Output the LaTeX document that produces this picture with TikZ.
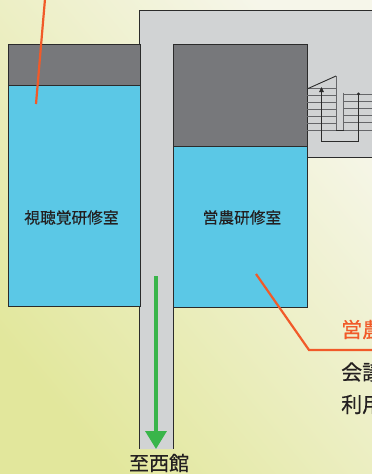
\documentclass[tikz,border=0pt]{standalone}
\usepackage{fontspec}
\setmainfont{Noto Sans CJK JP}
\newfontfamily\medfont[FakeBold=0.35]{Noto Sans CJK JP}
\usetikzlibrary{arrows.meta}
\definecolor{roomblue}{HTML}{5BC8E6}
\definecolor{roomgray}{HTML}{77787B}
\definecolor{hall}{HTML}{D1D3D4}
\definecolor{lineblk}{HTML}{2B2B2B}
\definecolor{orangeline}{HTML}{F15A29}
\definecolor{greenarrow}{HTML}{39B54A}
\definecolor{inkk}{HTML}{231F20}
\definecolor{bglow}{HTML}{E2E79C}
\definecolor{bghigh}{HTML}{F6F6EA}
\tikzset{
  wall/.style={draw=lineblk,line width=1pt},
  tread/.style={draw=roomgray!85!black,line width=1pt},
  run/.style={draw=lineblk,line width=.9pt},
  leader/.style={draw=orangeline,line width=2.2pt},
  roomlabel/.style={font=\medfont\fontsize{15.7}{16}\selectfont,text=inkk,inner sep=0pt},
  notelabel/.style={font=\medfont\fontsize{21}{21}\selectfont,anchor=west,inner sep=0pt}
}
\begin{document}
\begin{tikzpicture}[x=1pt,y=-1pt]
\useasboundingbox (0,0) rectangle (372,474);
\clip (0,0) rectangle (372,474);
\shade[shading=axis,left color=bghigh,right color=bglow,shading angle=-50] (0,0) rectangle (372,474);
% corridor
\path[fill=hall] (139.5,10.5) -- (372,10.5) -- (372,157) -- (307,157) -- (307,44) -- (173,44) -- (173,449) -- (139.5,449) -- cycle;
\draw[wall] (372,10.5) -- (139.5,10.5) -- (139.5,44);
\draw[wall] (139.5,306) -- (139.5,449);
\draw[wall] (173,307) -- (173,449);
\draw[wall] (307,157) -- (372,157);
% left room
\fill[roomgray] (8.5,44.5) rectangle (140,85.5);
\fill[roomblue] (8.5,85.5) rectangle (140,306);
\draw[wall] (8.5,44.5) rectangle (140,306);
\draw[wall] (8.5,85.5) -- (140,85.5);
% right room
\fill[roomgray] (173.5,44.5) rectangle (307,146.5);
\fill[roomblue] (173.5,146.5) rectangle (307,307);
\draw[wall] (173.5,44.5) rectangle (307,307);
\draw[wall] (173.5,146.5) -- (307,146.5);
% stairs
\foreach \y in {88,95,102.5,109.5,116.5,123,130} \draw[tread] (307,\y) -- (336,\y);
\foreach \y in {94.5,101.5,108,115,122,130} \draw[tread] (343.5,\y) -- (372,\y);
\draw[tread] (336,76) -- (336,130);
\draw[tread] (343.5,92.5) -- (343.5,130);
\draw[run] (336,130) -- (343.5,130);
\draw[run] (307,89) -- (336,76);
\draw[run,-{Triangle[width=4.5pt,length=5pt]}] (321.5,141.5) -- (321.5,87);
\draw[run] (321.5,141.5) -- (358.5,141.5) -- (358.5,94);
\fill[lineblk] (358.5,94) circle (1.6);
% labels
\node[roomlabel] (av) at (71.5,217.5) {視聴覚研修室};
\node[roomlabel] (agri) at (242,217.5) {営農研修室};
\node[font=\medfont\fontsize{20}{20}\selectfont,text=inkk,inner sep=0pt] (west) at (159,463) {至西館};
\node[notelabel,text=orangeline] (n1) at (341,329.5) {営農};
\node[notelabel,text=inkk] (n2) at (341,372) {会議};
\node[notelabel,text=inkk] (n3) at (341,404.5) {利用};
% leaders
\coordinate (a0) at (45,-1);
\coordinate (a1) at (36,104);
\draw[leader] (a0) -- (a1);
\coordinate (b0) at (256,274);
\coordinate (b1) at (309,350);
\coordinate (b2) at (373,350);
\draw[leader] (b0) -- (b1) -- (b2);
% green arrow
\coordinate (g0) at (156,276);
\coordinate (g1) at (156,449);
\draw[draw=greenarrow,line width=3.4pt,-{Triangle[width=21pt,length=18pt]}] (g0) -- (g1);
\end{tikzpicture}
\end{document}
